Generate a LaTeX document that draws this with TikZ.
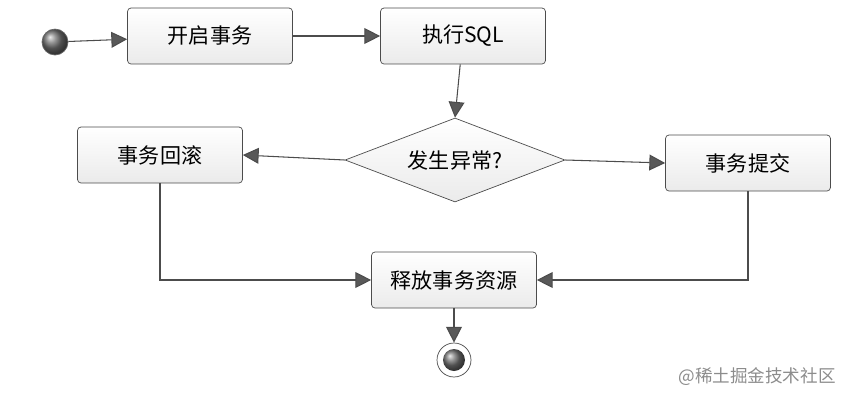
\documentclass[tikz,border=0pt]{standalone}
\usepackage{fontspec}
\newfontfamily\cjk{Noto Sans CJK SC}
\usetikzlibrary{shapes.geometric,arrows.meta}
\begin{document}
\begin{tikzpicture}[x=0.02cm,y=-0.02cm,
  box/.style={draw=black!70,rounded corners=2pt,top color=white,bottom color=black!8,minimum width=3.3cm,minimum height=1.12cm,font=\cjk\large,inner sep=0pt},
  arr/.style={draw=black!70,line width=0.6pt,-{Triangle[length=9pt,width=9pt,fill=black!65]}}]
\useasboundingbox (0,0) rectangle (853,400);
\node[circle,draw=black!60,inner sep=0pt,minimum size=0.52cm,ball color=black!55] (s) at (55,42) {};
\node[box] (a) at (210,36) {开启事务};
\node[box] (b) at (463,36) {执行SQL};
\node[diamond,draw=black!70,aspect=2.6,top color=white,bottom color=black!8,minimum width=4.4cm,minimum height=1.68cm,inner sep=0pt,font=\cjk\large] (d) at (455,160) {发生异常?};
\node[box] (r) at (160,155) {事务回滚};
\node[box] (c) at (748,163) {事务提交};
\node[box] (f) at (454,280) {释放事务资源};
\node[circle,draw=black!70,fill=white,inner sep=0pt,minimum size=0.68cm] (e) at (454,360) {};
\node[circle,inner sep=0pt,minimum size=0.44cm,ball color=black!55] at (e) {};
\node[font=\cjk,text=black!45] (w) at (757,377) {@稀土掘金技术社区};
\draw[arr] (s) -- (a);
\draw[arr] (a) -- (b);
\draw[arr] (b) -- (d.north);
\draw[arr] (d.west) -- (r.east);
\draw[arr] (d.east) -- (c.west);
\draw[arr] (r.south) |- (f.west);
\draw[arr] (c.south) |- (f.east);
\draw[arr] (f) -- (e);
\end{tikzpicture}
\end{document}
